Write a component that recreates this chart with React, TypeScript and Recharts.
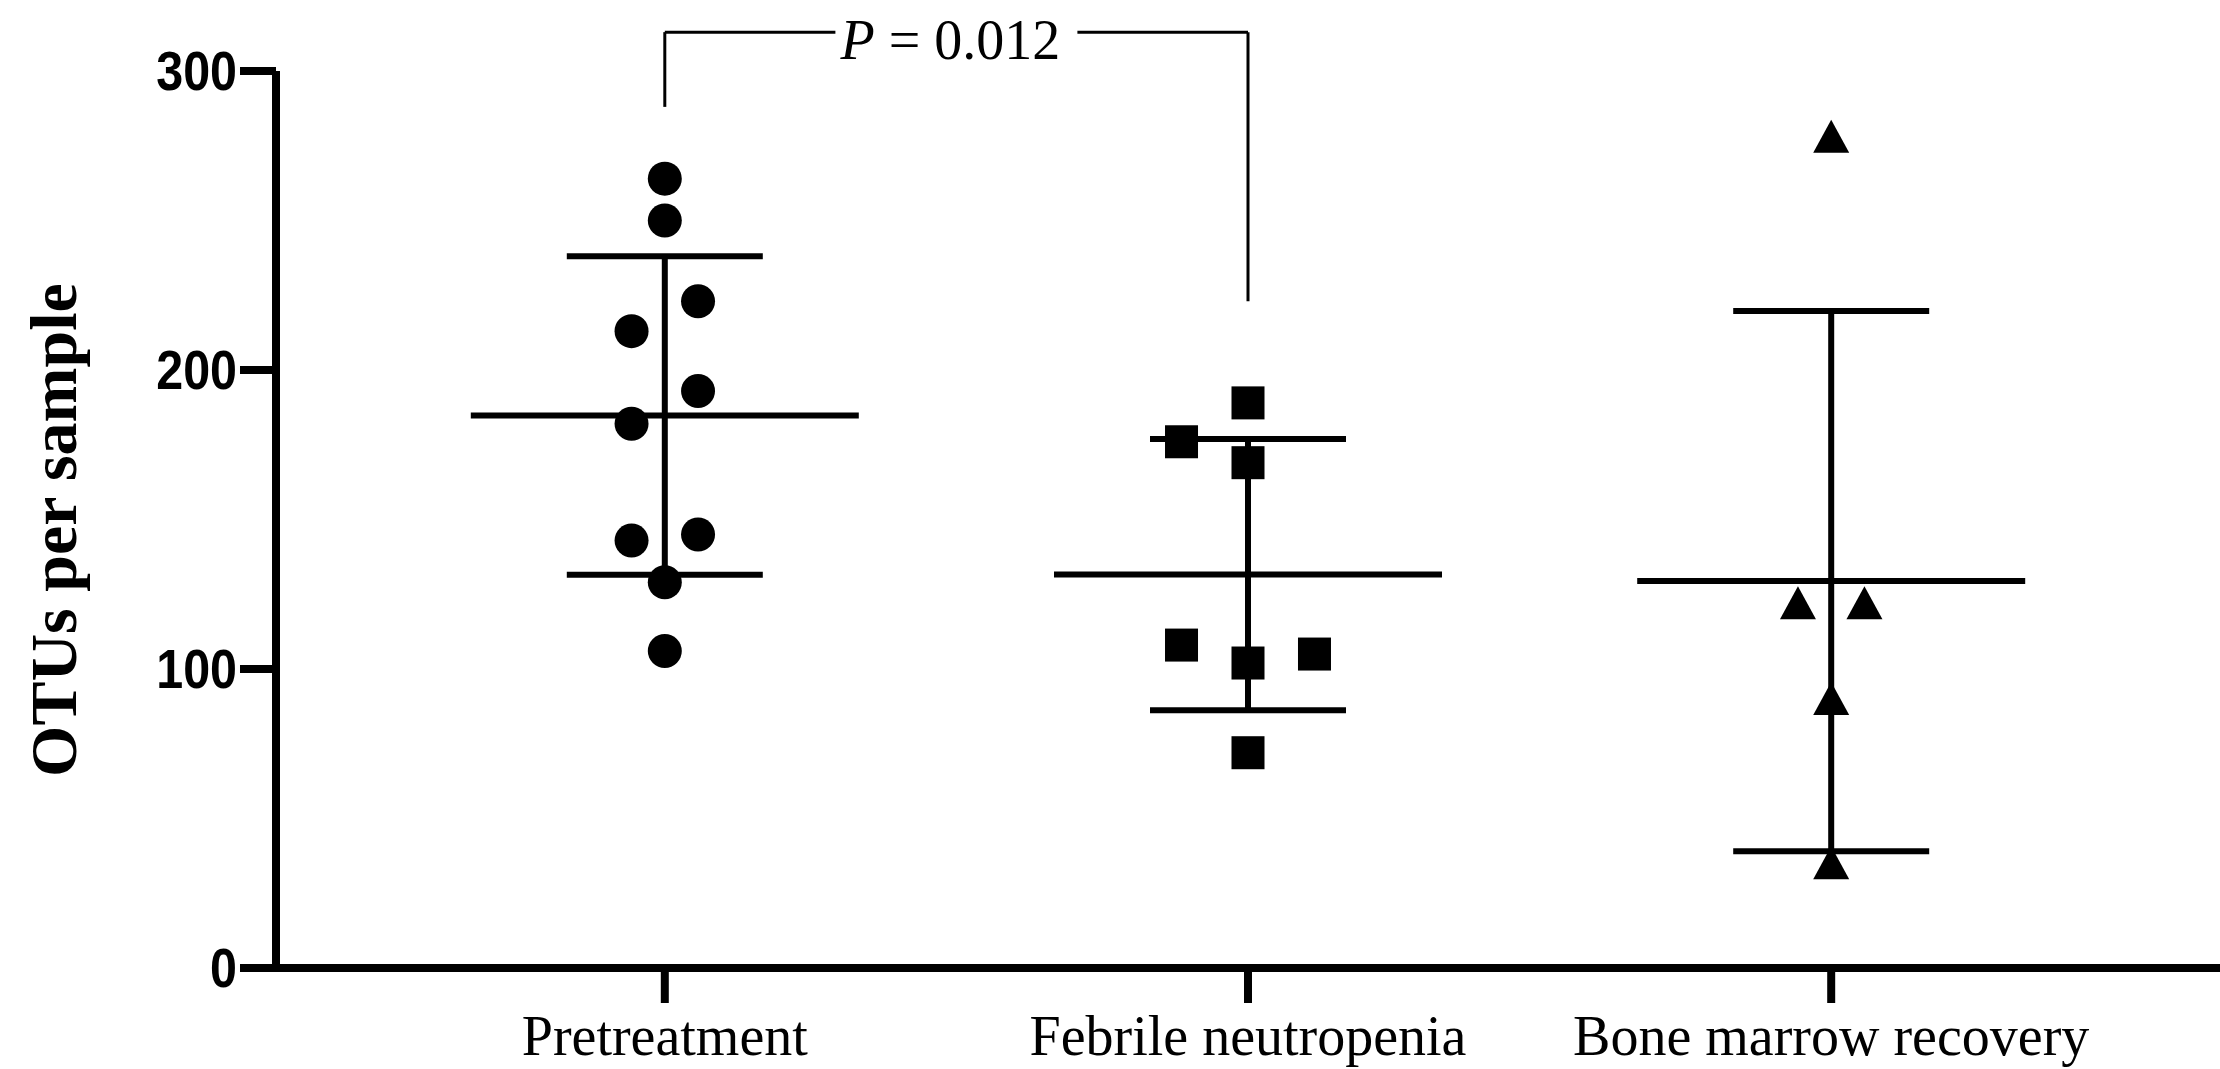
import React from "react";
import {
  ErrorBar,
  ReferenceLine,
  Scatter,
  ScatterChart,
  XAxis,
  YAxis,
} from "recharts";

// groups on the x axis
const groups = ["Pretreatment", "Febrile neutropenia", "Bone marrow recovery"];

// OTUs per sample; *Col = jitter column of each point
const pretreatment = [264, 250, 223, 213, 193, 182, 143, 145, 129, 106];
const pretreatmentCol = [0, 0, 1, -1, 1, -1, -1, 1, 0, 0];
const febrile = [189, 176, 169, 108, 102, 105, 72];
const febrileCol = [0, -2, 0, -2, 0, 2, 0];
const recovery = [278, 122, 122, 90, 35];
const recoveryCol = [0, -1, 1, 0, 0];

const xTicks = [1, 2, 3];
const yTicks = [0, 100, 200, 300];

// significance bracket Pretreatment vs Febrile neutropenia
const pText = "0.012";
const bracketFrom = 1;
const bracketTo = 2;
const bracketFromY = 288;
const bracketToY = 223;
const bracketTop = 313;

const JITTER = 0.057;
const SERIF = '"Liberation Serif", "Times New Roman", serif';
const SANS = '"Liberation Sans", Arial, sans-serif';

const mean = (a: number[]) => a.reduce((s, v) => s + v, 0) / a.length;
const sd = (a: number[]) => {
  const m = mean(a);
  return Math.sqrt(a.reduce((s, v) => s + (v - m) ** 2, 0) / (a.length - 1));
};

const toPoints = (vals: number[], cols: number[], g: number) =>
  vals.map((v, i) => ({ x: g + cols[i] * JITTER, y: v }));

const preData = toPoints(pretreatment, pretreatmentCol, 1);
const febData = toPoints(febrile, febrileCol, 2);
const recData = toPoints(recovery, recoveryCol, 3);

const statsData = [pretreatment, febrile, recovery].map((vals, i) => ({
  x: i + 1,
  y: mean(vals),
  sd: sd(vals),
}));

const Dot = (p: any) => <circle cx={p.cx} cy={p.cy} r={17} fill="#000" />;
const Square = (p: any) => (
  <rect x={p.cx - 16.5} y={p.cy - 16.5} width={33} height={33} fill="#000" />
);
const Triangle = (p: any) => (
  <polygon
    points={`${p.cx},${p.cy - 17} ${p.cx + 18},${p.cy + 16} ${p.cx - 18},${p.cy + 16}`}
    fill="#000"
  />
);
const MeanLine = (p: any) => (
  <line
    x1={p.cx - 194}
    x2={p.cx + 194}
    y1={p.cy}
    y2={p.cy}
    stroke="#000"
    strokeWidth={6}
  />
);

// condensed bold numbers like the original's Arial Narrow
const YTick = (p: any) => (
  <text
    transform={`translate(${p.x},${p.y}) scale(0.88,1)`}
    textAnchor="end"
    dominantBaseline="central"
    fontFamily={SANS}
    fontWeight="bold"
    fontSize={55}
    fill="#000"
  >
    {p.payload.value}
  </text>
);

const PLabel = (props: any) => {
  const vb = props.viewBox;
  if (!vb) return null;
  const cx = vb.x + vb.width / 2;
  const cy = vb.y;
  return (
    <g>
      <rect x={cx - 121} y={cy - 10} width={242} height={20} fill="#fff" />
      <text
        x={cx - 6}
        y={cy + 27}
        textAnchor="middle"
        fontFamily={SERIF}
        fontSize={56}
        fill="#000"
      >
        <tspan fontStyle="italic">P</tspan> = {pText}
      </text>
    </g>
  );
};

const YTitle = () => (
  <text
    transform="translate(53,530) rotate(-90)"
    textAnchor="middle"
    dominantBaseline="central"
    fontFamily={SERIF}
    fontWeight="bold"
    fontSize={66}
    fill="#000"
  >
    OTUs per sample
  </text>
);

const bracketStyle = { stroke: "#000", strokeWidth: 3 };

export default function App() {
  return (
    <div style={{ position: "absolute", left: 0, top: 0, background: "#fff" }}>
      <ScatterChart
        width={2220}
        height={1069}
        margin={{ top: 71, right: 0, bottom: 0, left: 0 }}
      >
        <XAxis
          type="number"
          dataKey="x"
          domain={[1 / 3, 11 / 3]}
          ticks={xTicks}
          interval={0}
          allowDataOverflow
          height={101}
          tickFormatter={(v: number) => groups[v - 1]}
          axisLine={{ stroke: "#000", strokeWidth: 8 }}
          tickLine={{ stroke: "#000", strokeWidth: 8 }}
          tickSize={35}
          tickMargin={12}
          tick={{ fill: "#000", fontSize: 56, fontFamily: SERIF }}
        />
        <YAxis
          type="number"
          dataKey="y"
          domain={[0, 300]}
          ticks={yTicks}
          interval={0}
          width={276}
          axisLine={{ stroke: "#000", strokeWidth: 8 }}
          tickLine={{ stroke: "#000", strokeWidth: 8 }}
          tickSize={36}
          tickMargin={3}
          tick={YTick}
          label={{ content: YTitle }}
        />
        <ReferenceLine
          segment={[
            { x: bracketFrom, y: bracketFromY },
            { x: bracketFrom, y: bracketTop },
          ]}
          ifOverflow="visible"
          {...bracketStyle}
        />
        <ReferenceLine
          segment={[
            { x: bracketTo, y: bracketToY },
            { x: bracketTo, y: bracketTop },
          ]}
          ifOverflow="visible"
          {...bracketStyle}
        />
        <ReferenceLine
          segment={[
            { x: bracketFrom, y: bracketTop },
            { x: bracketTo, y: bracketTop },
          ]}
          ifOverflow="visible"
          {...bracketStyle}
          label={PLabel}
        />
        <Scatter data={preData} shape={Dot} isAnimationActive={false} />
        <Scatter data={febData} shape={Square} isAnimationActive={false} />
        <Scatter data={recData} shape={Triangle} isAnimationActive={false} />
        <Scatter data={statsData} shape={MeanLine} isAnimationActive={false}>
          <ErrorBar
            dataKey="sd"
            direction="y"
            width={98}
            stroke="#000"
            strokeWidth={6}
            isAnimationActive={false}
          />
        </Scatter>
      </ScatterChart>
    </div>
  );
}
